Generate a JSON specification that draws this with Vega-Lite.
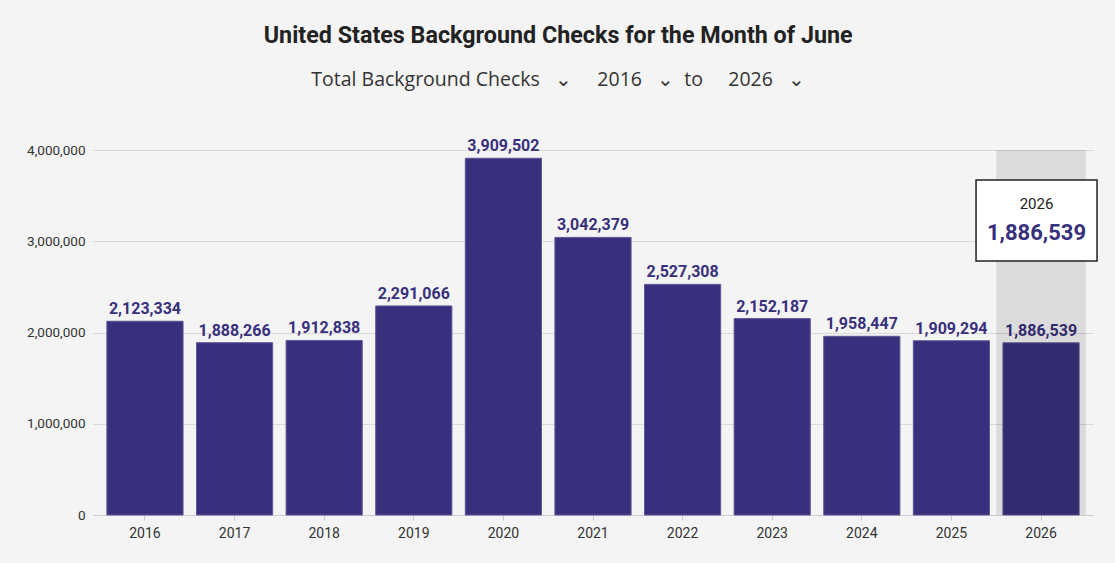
{
  "$schema": "https://vega.github.io/schema/vega-lite/v6.json",
  "width": 1000,
  "height": 365,
  "autosize": "none",
  "padding": {"left": 93, "top": 150, "right": 22, "bottom": 48},
  "background": "#f4f4f4",
  "title": {
    "text": "United States Background Checks for the Month of June",
    "subtitle": "Total Background Checks\u00a0\u00a0\u00a0\u2304\u00a0\u00a0\u00a0\u00a0\u00a02016\u00a0\u00a0\u00a0\u2304\u00a0\u00a0to\u00a0\u00a0\u00a0\u00a0\u00a02026\u00a0\u00a0\u00a0\u2304",
    "anchor": "middle",
    "frame": "bounds",
    "dx": -4,
    "offset": 48,
    "font": "Roboto",
    "fontSize": 23.3,
    "fontWeight": "bold",
    "color": "#222222",
    "subtitleFont": "Open Sans",
    "subtitleFontSize": 19.5,
    "subtitleColor": "#333333",
    "subtitlePadding": 22
  },
  "config": {"view": {"stroke": null}, "font": "Roboto"},
  "data": {
    "values": [
      {"year": "2016", "checks": 2123334},
      {"year": "2017", "checks": 1888266},
      {"year": "2018", "checks": 1912838},
      {"year": "2019", "checks": 2291066},
      {"year": "2020", "checks": 3909502},
      {"year": "2021", "checks": 3042379},
      {"year": "2022", "checks": 2527308},
      {"year": "2023", "checks": 2152187},
      {"year": "2024", "checks": 1958447},
      {"year": "2025", "checks": 1909294},
      {"year": "2026", "checks": 1886539}
    ]
  },
  "encoding": {
    "x": {
      "field": "year",
      "type": "ordinal",
      "scale": {"paddingInner": 0.15, "paddingOuter": 0.155},
      "axis": {
        "title": null,
        "labelAngle": 0,
        "labelFontSize": 14,
        "labelColor": "#333333",
        "domainColor": "#cccccc",
        "tickColor": "#cccccc",
        "tickSize": 5,
        "labelPadding": 6,
        "grid": false
      }
    }
  },
  "layer": [
    {
      "mark": {"type": "bar", "color": "#38307c", "stroke": "#5c5796", "strokeWidth": 1},
      "encoding": {
        "y": {
          "field": "checks",
          "type": "quantitative",
          "scale": {"domain": [0, 4000000], "nice": false},
          "axis": {
            "title": null,
            "values": [0, 1000000, 2000000, 3000000, 4000000],
            "format": ",d",
            "labelFontSize": 13.5,
            "labelColor": "#333333",
            "gridColor": "#d9d9d9",
            "domain": false,
            "ticks": false,
            "labelPadding": 8
          }
        }
      }
    },
    {
      "mark": {"type": "text", "baseline": "bottom", "dy": -4, "fontSize": 16, "fontWeight": "bold", "fill": "#38307c"},
      "encoding": {
        "y": {"field": "checks", "type": "quantitative"},
        "text": {"field": "checks", "type": "quantitative", "format": ",d"}
      }
    },
    {
      "transform": [{"filter": "datum.year == '2026'"}],
      "mark": {"type": "bar", "color": "#000000", "opacity": 0.1, "width": {"band": 1.177}},
      "encoding": {
        "y": {"datum": 4000000, "type": "quantitative"},
        "y2": {"datum": 0}
      }
    },
    {
      "transform": [{"filter": "datum.year == '2026'"}],
      "mark": {"type": "bar", "fill": "#ffffff", "stroke": "#222222", "strokeWidth": 1.5, "width": 121, "xOffset": -4.5},
      "encoding": {
        "y": {"datum": 3671000, "type": "quantitative"},
        "y2": {"datum": 2783000}
      }
    },
    {
      "transform": [{"filter": "datum.year == '2026'"}],
      "mark": {"type": "text", "baseline": "middle", "fontSize": 15, "fill": "#222222", "xOffset": -4.5},
      "encoding": {
        "y": {"datum": 3408000, "type": "quantitative"},
        "text": {"field": "year", "type": "nominal"}
      }
    },
    {
      "transform": [{"filter": "datum.year == '2026'"}],
      "mark": {"type": "text", "baseline": "middle", "fontSize": 22, "fontWeight": "bold", "fill": "#38307c", "xOffset": -4.5},
      "encoding": {
        "y": {"datum": 3090000, "type": "quantitative"},
        "text": {"field": "checks", "type": "quantitative", "format": ",d"}
      }
    }
  ]
}
